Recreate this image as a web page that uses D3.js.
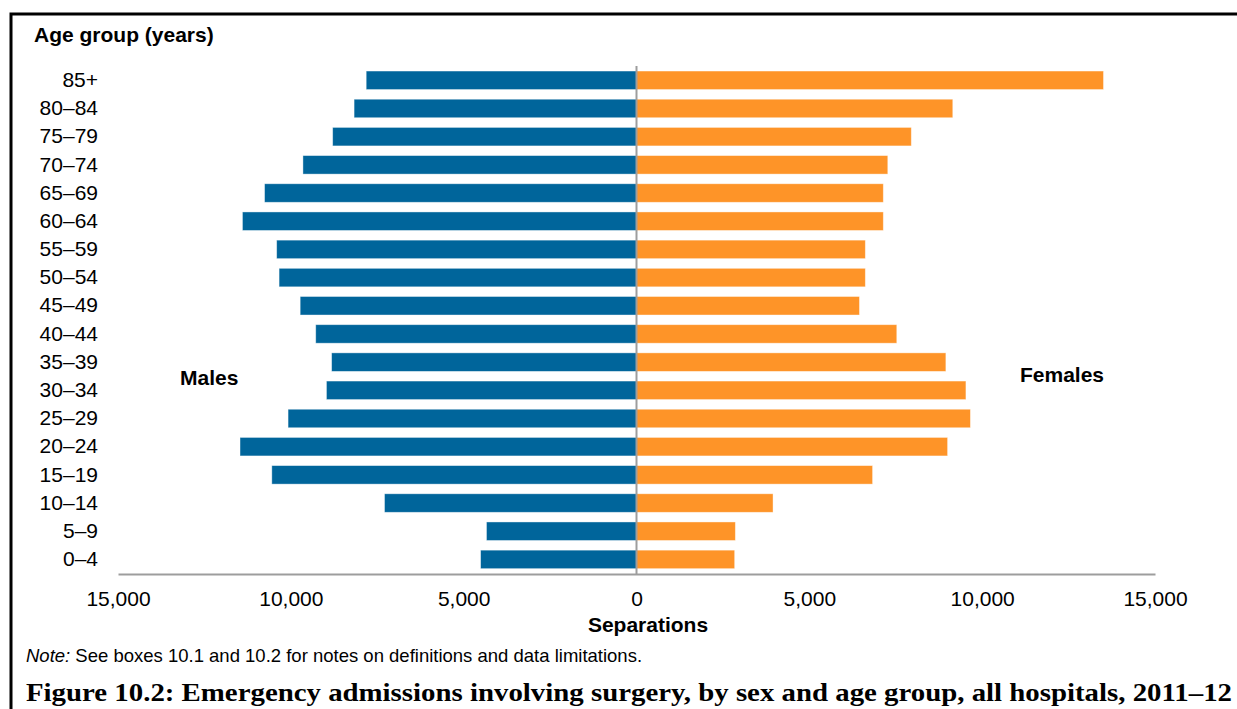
<!DOCTYPE html>
<html>
<head>
<meta charset="utf-8">
<script src="https://cdn.jsdelivr.net/npm/d3@7"></script>
<style>
  html, body { margin: 0; padding: 0; background: #fff; }
  svg { display: block; }
  text { font-family: "Liberation Sans", Arial, sans-serif; fill: #000; }
</style>
</head>
<body>
<svg id="chart" width="1237" height="709"></svg>
<script>
const ageGroups = ["85+", "80–84", "75–79", "70–74", "65–69", "60–64", "55–59", "50–54", "45–49",
                   "40–44", "35–39", "30–34", "25–29", "20–24", "15–19", "10–14", "5–9", "0–4"];
const males   = [7820, 8170, 8790, 9650, 10760, 11400, 10410, 10340, 9730,
                 9280, 8820, 8970, 10080, 11470, 10550, 7290, 4340, 4510];
const females = [13510, 9150, 7950, 7270, 7140, 7140, 6620, 6620, 6450,
                 7530, 8950, 9530, 9660, 9000, 6830, 3950, 2860, 2840];
const xTicks = [-15000, -10000, -5000, 0, 5000, 10000, 15000];

const svg = d3.select("#chart");
const fs = 21;

// frame
svg.append("rect").attr("x", 11).attr("y", 14).attr("width", 1400).attr("height", 900)
  .attr("fill", "none").attr("stroke", "#000").attr("stroke-width", 3);

const x = d3.scaleLinear().domain([-15000, 15000]).range([118, 1155]);
const y = d3.scaleBand().domain(ageGroups).range([66.2, 573.5])
  .paddingInner(0.343).paddingOuter(0.1715);

const blue = "#00659b", orange = "#fe9428";

// male bars
svg.append("g").selectAll("rect").data(ageGroups).join("rect")
  .attr("x", (d, i) => x(-males[i]))
  .attr("y", d => y(d))
  .attr("width", (d, i) => x(0) - x(-males[i]))
  .attr("height", y.bandwidth())
  .attr("fill", blue).attr("stroke", "#ffffff").attr("stroke-opacity", 0.5).attr("stroke-width", 0.8);

// female bars
svg.append("g").selectAll("rect").data(ageGroups).join("rect")
  .attr("x", x(0))
  .attr("y", d => y(d))
  .attr("width", (d, i) => x(females[i]) - x(0))
  .attr("height", y.bandwidth())
  .attr("fill", orange).attr("stroke", "#ffffff").attr("stroke-opacity", 0.5).attr("stroke-width", 0.8);

// x axis
const xAxis = d3.axisBottom(x).tickValues(xTicks).tickSize(0).tickPadding(0)
  .tickFormat(d => d3.format(",")(Math.abs(d)));
const gx = svg.append("g").attr("transform", "translate(0,574)").call(xAxis);
gx.select(".domain").attr("stroke", "#9d9d9d").attr("stroke-width", 2);
gx.selectAll("text").attr("font-size", fs).attr("dy", null).attr("y", 32)
  .style("font-family", "Liberation Sans, Arial, sans-serif").attr("fill", "#000");

// zero line
svg.append("line").attr("x1", x(0)).attr("x2", x(0)).attr("y1", 66).attr("y2", 574)
  .attr("stroke", "#9d9d9d").attr("stroke-width", 2);

// y axis labels
const yAxis = d3.axisLeft(y).tickSize(0).tickPadding(0);
const gy = svg.append("g").attr("transform", "translate(98,0)").call(yAxis);
gy.select(".domain").remove();
gy.selectAll("text").attr("font-size", fs).attr("x", 0)
  .style("font-family", "Liberation Sans, Arial, sans-serif").attr("fill", "#000");

// titles
svg.append("text").attr("x", 34).attr("y", 42).attr("font-size", fs).attr("font-weight", "bold")
  .text("Age group (years)");
svg.append("text").attr("x", 648).attr("y", 632).attr("font-size", fs).attr("font-weight", "bold")
  .attr("text-anchor", "middle").text("Separations");
svg.append("text").attr("x", 180).attr("y", 385).attr("font-size", fs).attr("font-weight", "bold")
  .text("Males");
svg.append("text").attr("x", 1020).attr("y", 382).attr("font-size", fs).attr("font-weight", "bold")
  .text("Females");

// note
const note = svg.append("text").attr("x", 26).attr("y", 662).attr("font-size", 18.5);
note.append("tspan").attr("font-style", "italic").text("Note:");
note.append("tspan").text(" See boxes 10.1 and 10.2 for notes on definitions and data limitations.");

// figure caption
svg.append("text").attr("x", 26).attr("y", 701).attr("font-size", 25).attr("font-weight", "bold")
  .style("font-family", "'Liberation Serif', 'DejaVu Serif', serif")
  .attr("textLength", 1206).attr("lengthAdjust", "spacingAndGlyphs")
  .text("Figure 10.2: Emergency admissions involving surgery, by sex and age group, all hospitals, 2011–12");
</script>
</body>
</html>
